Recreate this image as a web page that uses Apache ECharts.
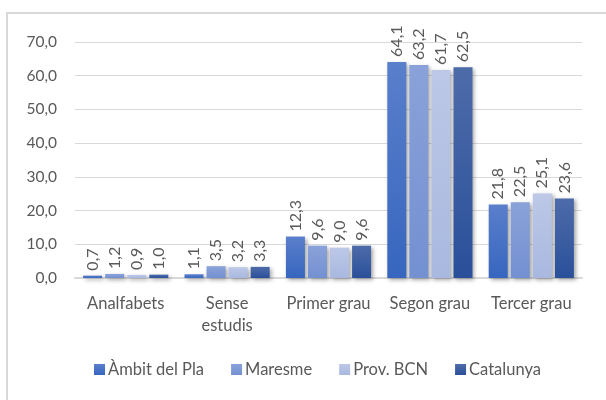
<!DOCTYPE html>
<html>
<head>
<meta charset="utf-8">
<script src="https://cdn.jsdelivr.net/npm/echarts@6/dist/echarts.min.js"></script>
<style>
  html, body { margin: 0; padding: 0; background: #fff; }
  #frame { position: absolute; left: 6px; top: 12px; width: 610px; height: 400px;
           border-left: 2px solid #d9d9d9; border-top: 2px solid #d9d9d9; }
  #chart { position: absolute; left: 0; top: 0; width: 606px; height: 400px; }
</style>
</head>
<body>
<div id="frame"></div>
<div id="chart"></div>
<script>
var categories = ['Analfabets', 'Sense\nestudis', 'Primer grau', 'Segon grau', 'Tercer grau'];
var seriesNames = ['Àmbit del Pla', 'Maresme', 'Prov. BCN', 'Catalunya'];
var ambit = [0.7, 1.1, 12.3, 64.1, 21.8];
var maresme = [1.2, 3.5, 9.6, 63.2, 22.5];
var provBcn = [0.9, 3.2, 9.0, 61.7, 25.1];
var catalunya = [1.0, 3.3, 9.6, 62.5, 23.6];

var values = [ambit, maresme, provBcn, catalunya];
var grads = [
    ['#5a7fcb', '#3766bf'],
    ['#8aa2d9', '#7390d1'],
    ['#bdc8e7', '#a8b8df'],
    ['#4e6ba9', '#2a509a']
];

function fmt(v) { return v.toFixed(1).replace('.', ','); }

var series = seriesNames.map(function (name, i) {
    return {
        name: name,
        type: 'bar',
        data: values[i],
        barGap: '16%',
        barCategoryGap: '16%',
        itemStyle: {
            color: new echarts.graphic.LinearGradient(0, 0, 0, 1, [
                { offset: 0, color: grads[i][0] },
                { offset: 1, color: grads[i][1] }
            ]),
            shadowColor: 'rgba(0,0,0,0.35)',
            shadowBlur: 4,
            shadowOffsetX: 2,
            shadowOffsetY: 2
        },
        label: {
            show: true,
            position: 'top',
            rotate: 90,
            align: 'left',
            verticalAlign: 'middle',
            distance: 5,
            color: '#595959',
            fontFamily: 'Lato',
            fontSize: 16,
            formatter: function (p) { return fmt(p.value); }
        }
    };
});

var chart = echarts.init(document.getElementById('chart'));
chart.setOption({
    animation: false,
    color: grads.map(function (g) { return g[1]; }),
    grid: { left: 75, right: 24, top: 42, bottom: 122, containLabel: false },
    legend: {
        bottom: 17,
        left: 89,
        itemWidth: 11,
        itemHeight: 11,
        itemGap: 27,
        icon: 'rect',
        textStyle: { color: '#595959', fontFamily: 'Lato', fontSize: 16.5, padding: [0, 0, 0, -2] },
        data: seriesNames
    },
    xAxis: {
        type: 'category',
        data: categories,
        axisTick: { show: false },
        axisLine: { lineStyle: { color: '#d9d9d9', width: 2 } },
        axisLabel: {
            interval: 0, hideOverlap: false,
            color: '#595959', fontFamily: 'Lato', fontSize: 16.5, margin: 15, lineHeight: 22
        }
    },
    yAxis: {
        type: 'value',
        min: 0,
        max: 70,
        interval: 10,
        axisLine: { show: false },
        axisTick: { show: false },
        splitLine: { lineStyle: { color: '#d9d9d9', width: 1 } },
        axisLabel: {
            color: '#595959', fontFamily: 'Lato', fontSize: 15.5, margin: 18,
            formatter: function (v) { return fmt(v); }
        }
    },
    series: series
});
</script>
</body>
</html>
